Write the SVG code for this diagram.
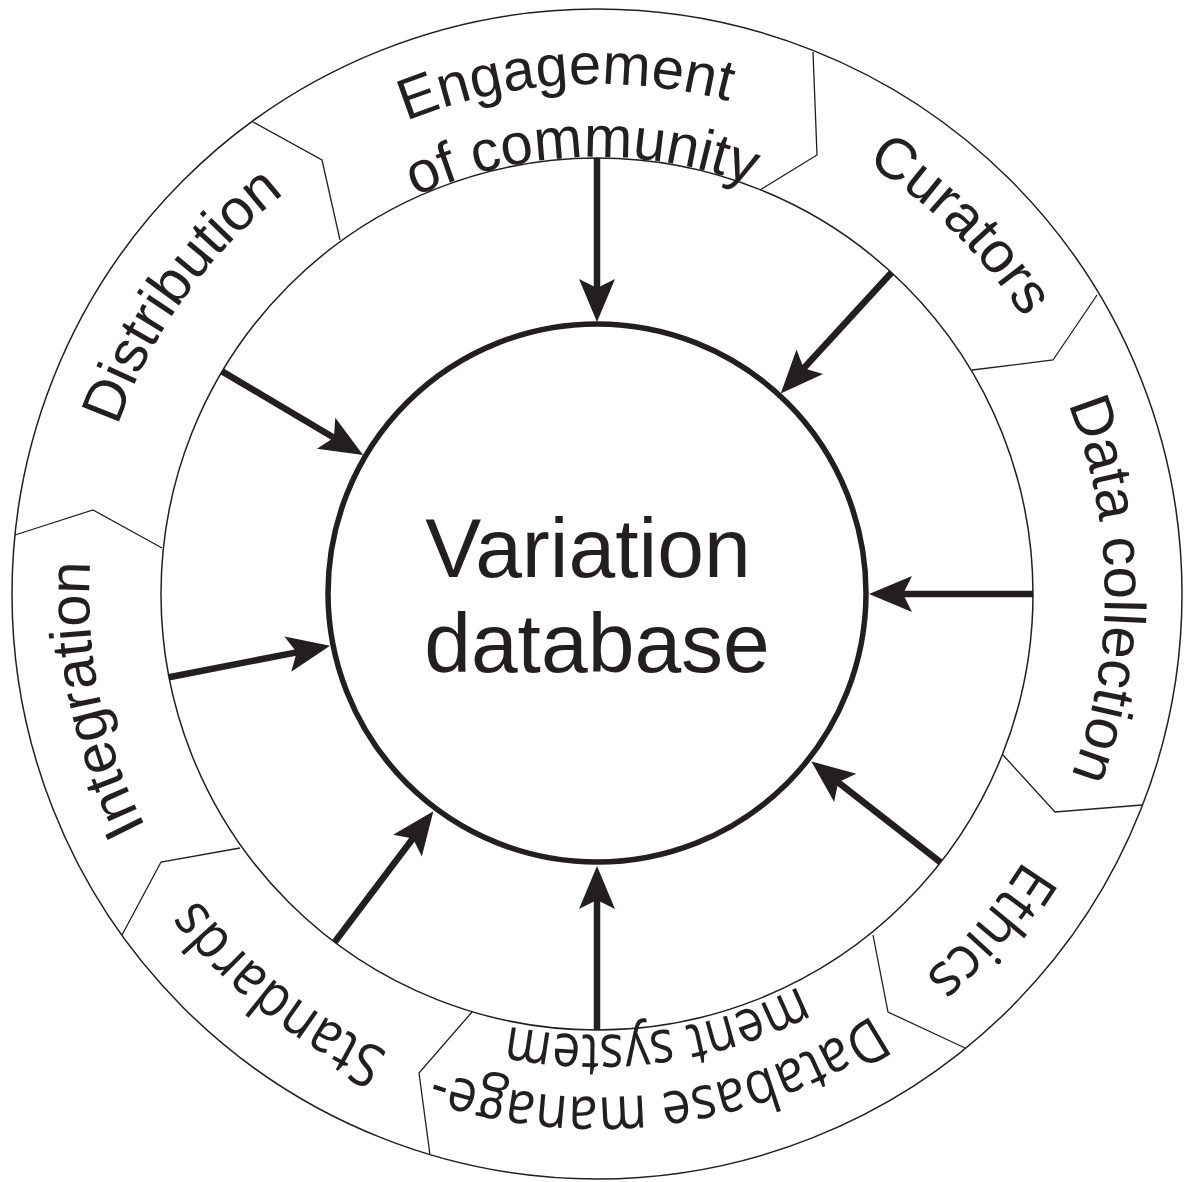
<svg xmlns="http://www.w3.org/2000/svg" xmlns:xlink="http://www.w3.org/1999/xlink" width="1184" height="1182" viewBox="0 0 1184 1182">
<style>
.ring{fill:none;stroke:#231f20;stroke-width:1.5}
.core{fill:none;stroke:#231f20;stroke-width:5.5}
.div{fill:none;stroke:#231f20;stroke-width:1.3;stroke-linejoin:miter}
.arr{fill:none;stroke:#231f20;stroke-width:6.5;marker-end:url(#head)}
.lbl{font-family:"Liberation Sans",Arial,sans-serif;font-size:58px;fill:#231f20}
.lbl2{font-family:"Open Sans","Liberation Sans",sans-serif;font-size:60px;fill:#231f20}
.center{font-family:"Liberation Sans",Arial,sans-serif;font-size:84px;fill:#231f20;text-anchor:middle}
</style>
<defs>
<marker id="head" markerUnits="userSpaceOnUse" markerWidth="60" markerHeight="60" viewBox="-20 -30 60 60" refX="0" refY="0" orient="auto" overflow="visible">
<path d="M30,0 L-13,-18 L-4,0 L-13,18 Z" fill="#231f20"/>
</marker>
<path id="c510" d="M597,84 A510,510 0 0 1 597,1104 A510,510 0 0 1 597,84 A510,510 0 0 1 597,1104 A510,510 0 0 1 597,84"/>
<path id="c437" d="M597,157 A437,437 0 0 1 597,1031 A437,437 0 0 1 597,157 A437,437 0 0 1 597,1031 A437,437 0 0 1 597,157"/>
<path id="c508" d="M597,86 A508,508 0 0 1 597,1102 A508,508 0 0 1 597,86 A508,508 0 0 1 597,1102 A508,508 0 0 1 597,86"/>
<path id="c503" d="M597,91 A503,503 0 0 1 597,1097 A503,503 0 0 1 597,91 A503,503 0 0 1 597,1097 A503,503 0 0 1 597,91"/>
<path id="c441" d="M597,153 A441,441 0 0 1 597,1035 A441,441 0 0 1 597,153 A441,441 0 0 1 597,1035 A441,441 0 0 1 597,153"/>
</defs>
<rect width="1184" height="1182" fill="#ffffff"/>
<g id="rings">
<circle class="ring" cx="597" cy="594" r="585"/>
<circle class="ring" cx="597" cy="594" r="436"/>
</g>
<g id="dividers">
<polyline class="div" points="253,122 322,160 340,240"/>
<polyline class="div" points="813,52 817,155 760,190"/>
<polyline class="div" points="1097,295 1053,360 972,370"/>
<polyline class="div" points="1003,755 1055,812 1142,805"/>
<polyline class="div" points="873,935 888,1012 965,1048"/>
<polyline class="div" points="472,1012 419,1073 430,1155"/>
<polyline class="div" points="240,848 161,862 122,935"/>
<polyline class="div" points="15,535 93,510 162,548"/>
</g>
<g id="variation-database">
<circle class="core" cx="597" cy="593" r="269"/>
<text class="center" x="588" y="577">Variation</text>
<text class="center" x="597" y="672">database</text>
</g>
<g id="engagement">
<text class="lbl" font-size="59" text-anchor="middle"><textPath xlink:href="#c510" startOffset="3173">Engagement</textPath></text>
<text class="lbl" font-size="59" text-anchor="middle"><textPath xlink:href="#c437" startOffset="2730">of community</textPath></text>
</g>
<g id="curators">
<text class="lbl" text-anchor="middle"><textPath xlink:href="#c508" startOffset="3586">Curators</textPath></text>
</g>
<g id="data-collection">
<text class="lbl" text-anchor="middle"><textPath xlink:href="#c508" startOffset="3984">Data collection</textPath></text>
</g>
<g id="ethics">
<text class="lbl2" text-anchor="middle"><textPath xlink:href="#c503" startOffset="4306" textLength="154" lengthAdjust="spacingAndGlyphs">Ethics</textPath></text>
</g>
<g id="database-management">
<text class="lbl2" text-anchor="middle"><textPath xlink:href="#c503" startOffset="4675" textLength="455" lengthAdjust="spacingAndGlyphs">Database manage-</textPath></text>
<text class="lbl2" text-anchor="middle"><textPath xlink:href="#c441" startOffset="4095" textLength="300" lengthAdjust="spacingAndGlyphs">ment system</textPath></text>
</g>
<g id="standards">
<text class="lbl2" text-anchor="middle"><textPath xlink:href="#c503" startOffset="5078" textLength="248" lengthAdjust="spacingAndGlyphs">Standards</textPath></text>
</g>
<g id="integration">
<text class="lbl" text-anchor="middle"><textPath xlink:href="#c508" startOffset="5479">Integration</textPath></text>
</g>
<g id="distribution">
<text class="lbl" text-anchor="middle"><textPath xlink:href="#c508" startOffset="5900">Distribution</textPath></text>
</g>
<g id="connectors">
<line class="arr" x1="597" y1="158" x2="597" y2="292"/>
<line class="arr" x1="891.6" y1="272.5" x2="801" y2="371.3"/>
<line class="arr" x1="1033" y1="594" x2="899" y2="594"/>
<line class="arr" x1="940.6" y1="862.4" x2="835" y2="779.9"/>
<line class="arr" x1="597" y1="1030" x2="597" y2="896"/>
<line class="arr" x1="334.6" y1="942.2" x2="415.3" y2="835.2"/>
<line class="arr" x1="169" y1="677.2" x2="300.6" y2="651.6"/>
<line class="arr" x1="222.1" y1="371.4" x2="337.3" y2="439.8"/>
</g>
</svg>
